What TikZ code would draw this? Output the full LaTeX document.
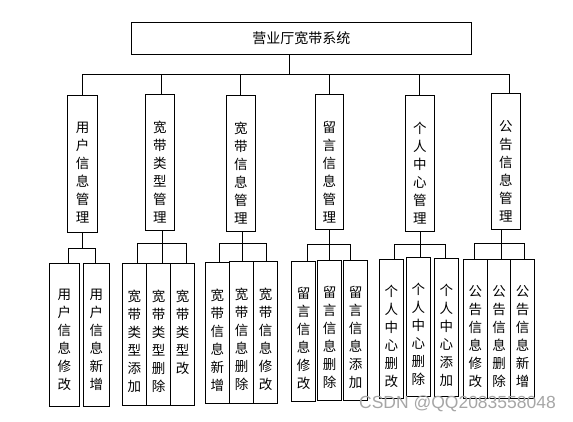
\documentclass[tikz,border=0pt]{standalone}
\usepackage{fontspec}
\newfontfamily\cjk{Noto Sans CJK SC}
\setsansfont{Liberation Sans}
\newcommand{\colbox}[7]{%
  \node[box, minimum width=#4pt, minimum height=#5pt] (#1) at (#2,#3) {};
  \node[vt] (#1t) at ([yshift=-#6pt]#1.north) {#7};}
\begin{document}
\begin{tikzpicture}[x=1pt,y=-1pt,
  box/.style={draw, line width=0.8pt, inner sep=0pt},
  vt/.style={font=\cjk\fontsize{13.5}{18}\selectfont, align=center, inner sep=0pt, anchor=north},
  conn/.style={line width=0.8pt}]
\useasboundingbox (0,0) rectangle (573,422);
\node[box, minimum width=340.7pt, minimum height=32pt, font=\cjk\fontsize{14}{16}\selectfont] (root) at (301.35,38) {营业厅宽带系统};
% level 2
\colbox{b1}{82.5}{163.5}{30.4}{137}{27}{用\\户\\信\\息\\管\\理}
\colbox{b2}{159.8}{162.3}{29}{136}{27}{宽\\带\\类\\型\\管\\理}
\colbox{b3}{240.8}{163.3}{29}{136}{27}{宽\\带\\信\\息\\管\\理}
\colbox{b4}{329.3}{161.8}{28}{135}{27}{留\\言\\信\\息\\管\\理}
\colbox{b5}{419.8}{163.3}{29}{136}{27}{个\\人\\中\\心\\管\\理}
\colbox{b6}{505.8}{161.3}{29}{136}{27}{公\\告\\信\\息\\管\\理}
% leaves
\colbox{l11}{64.3}{334.8}{30}{143}{26.5}{用\\户\\信\\息\\修\\改}
\colbox{l12}{96.3}{334.8}{26}{143}{26.5}{用\\户\\信\\息\\新\\增}
\colbox{l21}{134.3}{334.2}{24}{141.7}{26.5}{宽\\带\\类\\型\\添\\加}
\colbox{l22}{158.5}{334.2}{24.4}{141.7}{26.5}{宽\\带\\类\\型\\删\\除}
\colbox{l23}{182.5}{334.2}{23.6}{141.7}{26.5}{宽\\带\\类\\型\\改}
\colbox{l31}{217.3}{332.8}{24}{141}{26.5}{宽\\带\\信\\息\\新\\增}
\colbox{l32}{241.5}{332.3}{24.4}{142}{26.5}{宽\\带\\信\\息\\删\\除}
\colbox{l33}{265.7}{332.3}{24}{142}{26.5}{宽\\带\\信\\息\\修\\改}
\colbox{l41}{303.5}{331.3}{24.4}{140}{26.5}{留\\言\\信\\息\\修\\改}
\colbox{l42}{329.5}{330.3}{24.4}{140}{26.5}{留\\言\\信\\息\\删\\除}
\colbox{l43}{355.5}{330.3}{24.4}{140}{26.5}{留\\言\\信\\息\\添\\加}
\colbox{l51}{391.3}{328.8}{24}{139}{26.5}{个\\人\\中\\心\\删\\改}
\colbox{l52}{418.3}{326.8}{24}{139}{26.5}{个\\人\\中\\心\\删\\除}
\colbox{l53}{446.3}{327.3}{24}{138}{26.5}{个\\人\\中\\心\\添\\加}
\colbox{l61}{475.3}{328.8}{24}{139}{26.5}{公\\告\\信\\息\\修\\改}
\colbox{l62}{499}{328.8}{23.4}{139}{26.5}{公\\告\\信\\息\\删\\除}
\colbox{l63}{522.7}{328.8}{24}{139}{26.5}{公\\告\\信\\息\\新\\增}
% connectors level 1-2
\coordinate (h0) at (289,74.5);
\draw[conn] (h0 |- root.south) -- (h0);
\draw[conn] (b1.north) |- (h0);
\draw[conn] ([xshift=1.9pt]b2.north) |- (h0);
\draw[conn] (b3.north) |- (h0);
\draw[conn] (b4.north) |- (h0);
\draw[conn] (b5.north) |- (h0);
\draw[conn] ([xshift=3.5pt]b6.north) |- (h0);
% group 1
\coordinate (h1) at (82.7,248.3);
\draw[conn] (h1 |- b1.south) -- (h1);
\draw[conn] ([xshift=4pt]l11.north) |- (h1);
\draw[conn] ([xshift=-0.6pt]l12.north) |- (h1);
% group 2
\coordinate (h2) at (162.7,243.3);
\draw[conn] (h2 |- b2.south) -- (h2);
\draw[conn] ([xshift=3pt]l21.north) |- (h2);
\draw[conn] ([xshift=4.2pt]l22.north) |- (h2);
\draw[conn] ([xshift=3.5pt]l23.north) |- (h2);
% group 3
\coordinate (h3) at (242.3,243.7);
\draw[conn] (h3 |- b3.south) -- (h3);
\draw[conn] ([xshift=2pt]l31.north) |- (h3);
\draw[conn] ([xshift=0.8pt]l32.north) |- (h3);
\draw[conn] ([xshift=0.6pt]l33.north) |- (h3);
% group 4
\coordinate (h4) at (329.7,244.7);
\draw[conn] (h4 |- b4.south) -- (h4);
\draw[conn] ([xshift=4.2pt]l41.north) |- (h4);
\draw[conn] ([xshift=0.2pt]l42.north) |- (h4);
\draw[conn] ([xshift=-5.2pt]l43.north) |- (h4);
% group 5
\coordinate (h5) at (420.3,244.7);
\draw[conn] (h5 |- b5.south) -- (h5);
\draw[conn] ([xshift=3pt]l51.north) |- (h5);
\draw[conn] ([xshift=2pt]l52.north) |- (h5);
\draw[conn] ([xshift=-1pt]l53.north) |- (h5);
% group 6
\coordinate (h6) at (501.3,243.3);
\draw[conn] (h6 |- b6.south) -- (h6);
\draw[conn] ([xshift=-1pt]l61.north) |- (h6);
\draw[conn] ([xshift=2.3pt]l62.north) |- (h6);
\draw[conn] ([xshift=1.6pt]l63.north) |- (h6);
% watermark
\node[font=\sffamily\fontsize{17.5}{20}\selectfont, text=black!35, inner sep=0pt] (wm) at (457.5,403.5) {CSDN @QQ2083558048};
\end{tikzpicture}
\end{document}
